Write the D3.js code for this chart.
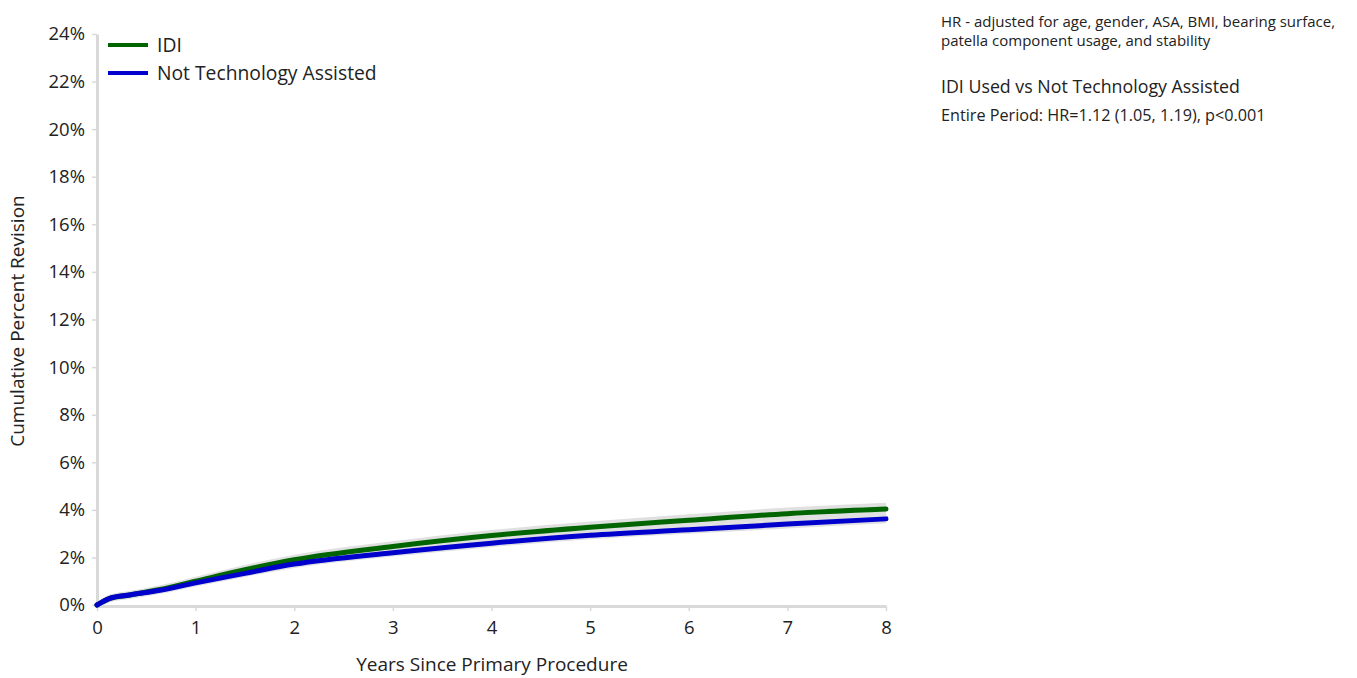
<!DOCTYPE html>
<html>
<head>
<meta charset="utf-8">
<script src="https://cdn.jsdelivr.net/npm/d3@7"></script>
<style>
  body { margin: 0; background: #fff; }
  svg { display: block; font-family: "Open Sans", "Noto Sans", sans-serif; }
</style>
</head>
<body>
<svg id="chart" width="1357" height="678"></svg>
<script>
// ---- data ----
const years = [0, 0.05, 0.13, 0.33, 0.64, 1, 1.5, 2, 3, 4, 5, 6, 7, 8];
const idiValues = [0, 0.12, 0.28, 0.42, 0.65, 1.0, 1.48, 1.9, 2.46, 2.92, 3.27, 3.56, 3.84, 4.03];
const notTechValues = [0, 0.12, 0.28, 0.42, 0.62, 0.93, 1.33, 1.72, 2.2, 2.6, 2.93, 3.16, 3.4, 3.62];
const idiCIHalf = [0, 0.02, 0.04, 0.05, 0.06, 0.07, 0.08, 0.09, 0.1, 0.11, 0.12, 0.13, 0.14, 0.15];
const notTechCIHalf = [0, 0.01, 0.02, 0.02, 0.03, 0.03, 0.03, 0.04, 0.04, 0.05, 0.05, 0.05, 0.06, 0.06];
const xTicks = [0, 1, 2, 3, 4, 5, 6, 7, 8];
const yTicks = [0, 2, 4, 6, 8, 10, 12, 14, 16, 18, 20, 22, 24];
const seriesNames = ["IDI", "Not Technology Assisted"];
const seriesColors = ["#006400", "#0000CD"];
const noteLines = ["HR - adjusted for age, gender, ASA, BMI, bearing surface,", "patella component usage, and stability"];
const comparisonTitle = "IDI Used vs Not Technology Assisted";
const comparisonStat = "Entire Period: HR=1.12 (1.05, 1.19), p<0.001";

// ---- layout ----
const svg = d3.select("#chart");
const x = d3.scaleLinear().domain([0, 8]).range([97, 886]);
const y = d3.scaleLinear().domain([0, 24]).range([605, 34]);

// axes
const xAxis = svg.append("g").attr("transform", "translate(0,606)")
  .call(d3.axisBottom(x).tickValues(xTicks).tickFormat(d3.format("d")).tickSize(5).tickSizeOuter(0));
xAxis.select(".domain").attr("stroke", "#d9d9d9").attr("stroke-width", 3);
xAxis.selectAll(".tick line").attr("stroke", "#d9d9d9").attr("stroke-width", 1.5);
xAxis.selectAll(".tick text").attr("font-size", 18.5).attr("fill", "#222").attr("dy", "1.1em")
  .attr("font-family", "'Open Sans', sans-serif");

const yAxis = svg.append("g").attr("transform", "translate(97,0)")
  .call(d3.axisLeft(y).tickValues(yTicks).tickFormat(d => d + "%").tickSize(5).tickSizeOuter(0));
yAxis.select(".domain").attr("stroke", "#d9d9d9").attr("stroke-width", 3);
yAxis.selectAll(".tick line").attr("stroke", "#d9d9d9").attr("stroke-width", 1.5);
yAxis.selectAll(".tick text").attr("font-size", 18.5).attr("fill", "#222").attr("x", -12)
  .attr("font-family", "'Open Sans', sans-serif");

// axis titles
svg.append("text").attr("x", 492).attr("y", 671).attr("text-anchor", "middle")
  .attr("font-size", 19).attr("fill", "#222").text("Years Since Primary Procedure");
svg.append("text").attr("transform", "translate(24,321) rotate(-90)").attr("text-anchor", "middle")
  .attr("font-size", 19).attr("fill", "#222").text("Cumulative Percent Revision");

// series
const series = [
  { name: seriesNames[0], values: idiValues, ci: idiCIHalf, color: seriesColors[0] },
  { name: seriesNames[1], values: notTechValues, ci: notTechCIHalf, color: seriesColors[1] }
];
const area = d3.area().curve(d3.curveMonotoneX)
  .x(d => x(d.t)).y0(d => y(d.v - d.c)).y1(d => y(d.v + d.c));
const line = d3.line().curve(d3.curveMonotoneX).x(d => x(d.t)).y(d => y(d.v));

series.forEach(s => {
  const pts = years.map((t, i) => ({ t, v: s.values[i], c: s.ci[i] + 0.12 }));
  svg.append("path").datum(pts).attr("d", area).attr("fill", "#e0e0e0");
});
series.forEach(s => {
  const pts = years.map((t, i) => ({ t, v: s.values[i] }));
  svg.append("path").datum(pts).attr("d", line).attr("fill", "none")
    .attr("stroke", s.color).attr("stroke-width", 5).attr("stroke-linecap", "round");
});

// legend
const legend = svg.append("g");
series.forEach((s, i) => {
  const ly = 45 + i * 28;
  legend.append("line").attr("x1", 108).attr("x2", 148).attr("y1", ly).attr("y2", ly)
    .attr("stroke", s.color).attr("stroke-width", 4);
  legend.append("text").attr("x", 157).attr("y", ly + 7).attr("font-size", 19.3).attr("fill", "#222")
    .text(s.name);
});

// right-side notes
noteLines.forEach((t, i) => {
  svg.append("text").attr("x", 941).attr("y", 27 + i * 19).attr("font-size", 15).attr("fill", "#222").text(t);
});
svg.append("text").attr("x", 941).attr("y", 93).attr("font-size", 17.8).attr("fill", "#222").text(comparisonTitle);
svg.append("text").attr("x", 941).attr("y", 121).attr("font-size", 16.2).attr("fill", "#222").text(comparisonStat);
</script>
</body>
</html>
